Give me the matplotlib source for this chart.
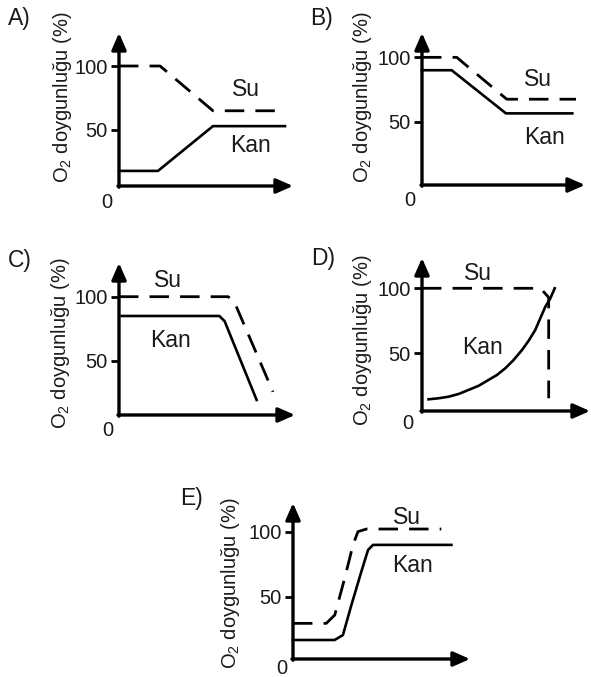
import matplotlib
matplotlib.use('Agg')
import matplotlib.pyplot as plt

plt.rcParams['font.family'] = ['Liberation Sans', 'DejaVu Sans']
plt.rcParams['mathtext.fontset'] = 'custom'
plt.rcParams['mathtext.rm'] = 'Liberation Sans'
plt.rcParams['mathtext.default'] = 'regular'

W, H = 591, 677

# panel data: x in % of axis length, y in O2 saturation %
panels = ['A)', 'B)', 'C)', 'D)', 'E)']

su_a_x = [0, 23.6, 54, 95.4]
su_a_y = [100, 100, 65, 65]
kan_a_x = [0, 22.4, 54, 95.4]
kan_a_y = [18, 18, 53, 53]

su_b_x = [0, 21.3, 52, 94.5]
su_b_y = [100, 100, 67.5, 67.5]
kan_b_x = [0, 18.2, 51.5, 92.2]
kan_b_y = [90, 90, 56.5, 56.5]

su_c_x = [0, 62, 65.5, 87.5]
su_c_y = [100, 100, 96, 26]
kan_c_x = [1.5, 57, 60, 78.2]
kan_c_y = [85, 85, 81, 19.7]

su_d_x = [0, 70.5, 75.4, 75.4]
su_d_y = [100, 100, 93, 15.4]
kan_d_x = [3.9, 9.9, 15.8, 21.8, 27.7, 33.7, 39.6, 44.6, 49.6, 54.5, 59.5,
           63.5, 67.4, 70.4, 73.4, 76.4, 79]
kan_d_y = [14.6, 15.4, 16.6, 18.7, 21.8, 25, 29.5, 33.3, 38.5, 44.8, 52.5,
           59.7, 67.9, 76.9, 85.8, 92.3, 100]

su_e_x = [0, 18.8, 23.6, 29.2, 33.9, 36.7, 41.5, 83.8]
su_e_y = [29.5, 29.5, 35.9, 64.2, 89.8, 100, 102, 102]
kan_e_x = [0, 23.5, 28.2, 33, 38.6, 42.4, 45.2, 89.5]
kan_e_y = [16.7, 16.7, 20.5, 43.6, 69.2, 85.9, 89.8, 89.8]

series = [(su_a_x, su_a_y, kan_a_x, kan_a_y),
          (su_b_x, su_b_y, kan_b_x, kan_b_y),
          (su_c_x, su_c_y, kan_c_x, kan_c_y),
          (su_d_x, su_d_y, kan_d_x, kan_d_y),
          (su_e_x, su_e_y, kan_e_x, kan_e_y)]

# layout in pixels: left axis x, bottom axis y, right tip, top tip, ylim
boxes = [(119, 186, 293, 33, 6.2, 125.8),
         (422, 185, 585, 33, 0.9, 118.9),
         (119, 415, 295, 263, 8.0, 126.2),
         (422, 411, 590, 258, 5.6, 123.3),
         (293, 659, 470, 503, 2.1, 122.0)]
letter_pos = [(19, 18), (322, 18), (20, 261), (323, 258), (191, 498)]
ylab_pos = [(62, 97), (363, 97), (60, 343), (363, 340), (230, 583)]
su_pos = [(246, 89), (538, 80), (168, 280), (478, 274), (407, 517)]
kan_pos = [(251, 146), (545, 138), (170, 340), (483, 348), (412, 566)]
zero_off = [(-12, -16), (-12, -15), (-11, -15), (-14, -12), (-11, -9)]

fig = plt.figure(figsize=(W / 100, H / 100), dpi=100)
fs = 14.5
tc = '#1a1a1a'

def fx(x, y):
    return x / W, 1 - y / H

for i in range(5):
    L, B, R, T, ylo, yhi = boxes[i]
    ax = fig.add_axes([L / W, 1 - B / H, (R - L) / W, (B - T) / H])
    ax.set_xlim(0, 100)
    ax.set_ylim(ylo, yhi)
    for s in ax.spines.values():
        s.set_visible(False)
    ax.set_xticks([])
    ax.set_yticks([50, 100])
    ax.tick_params(axis='y', length=5.5, width=2, pad=2.5, labelsize=fs, labelcolor=tc)
    ax.patch.set_visible(False)
    ap = dict(arrowstyle='-|>,head_length=0.5,head_width=0.22', lw=2.4, color='k',
              mutation_scale=20, shrinkA=0, shrinkB=0)
    ax.annotate('', xy=(1, 0), xytext=(-0.006, 0), xycoords='axes fraction', arrowprops=ap)
    ax.annotate('', xy=(0, 1), xytext=(0, -0.008), xycoords='axes fraction', arrowprops=ap)
    ax.annotate('0', xy=(0, 0), xycoords='axes fraction', xytext=zero_off[i],
                textcoords='offset pixels', ha='center', va='center', fontsize=fs, color=tc)
    sx, sy, kx, ky = series[i]
    ax.plot(sx, sy, color='k', lw=2, dashes=(7, 4), clip_on=False, solid_joinstyle='round')
    ax.plot(kx, ky, color='k', lw=1.9, clip_on=False, solid_joinstyle='round')

    fig.text(*fx(*letter_pos[i]), panels[i], ha='center', va='center', fontsize=16.5, color=tc)
    fig.text(*fx(*ylab_pos[i]), 'O$_2$ doygunluğu (%)', ha='center', va='center',
             rotation=90, fontsize=fs, color=tc)
    fig.text(*fx(*su_pos[i]), 'Su', ha='center', va='center', fontsize=16.5, color=tc)
    fig.text(*fx(*kan_pos[i]), 'Kan', ha='center', va='center', fontsize=16.5, color=tc)

fig.savefig('out.png', dpi=100, facecolor='white')
